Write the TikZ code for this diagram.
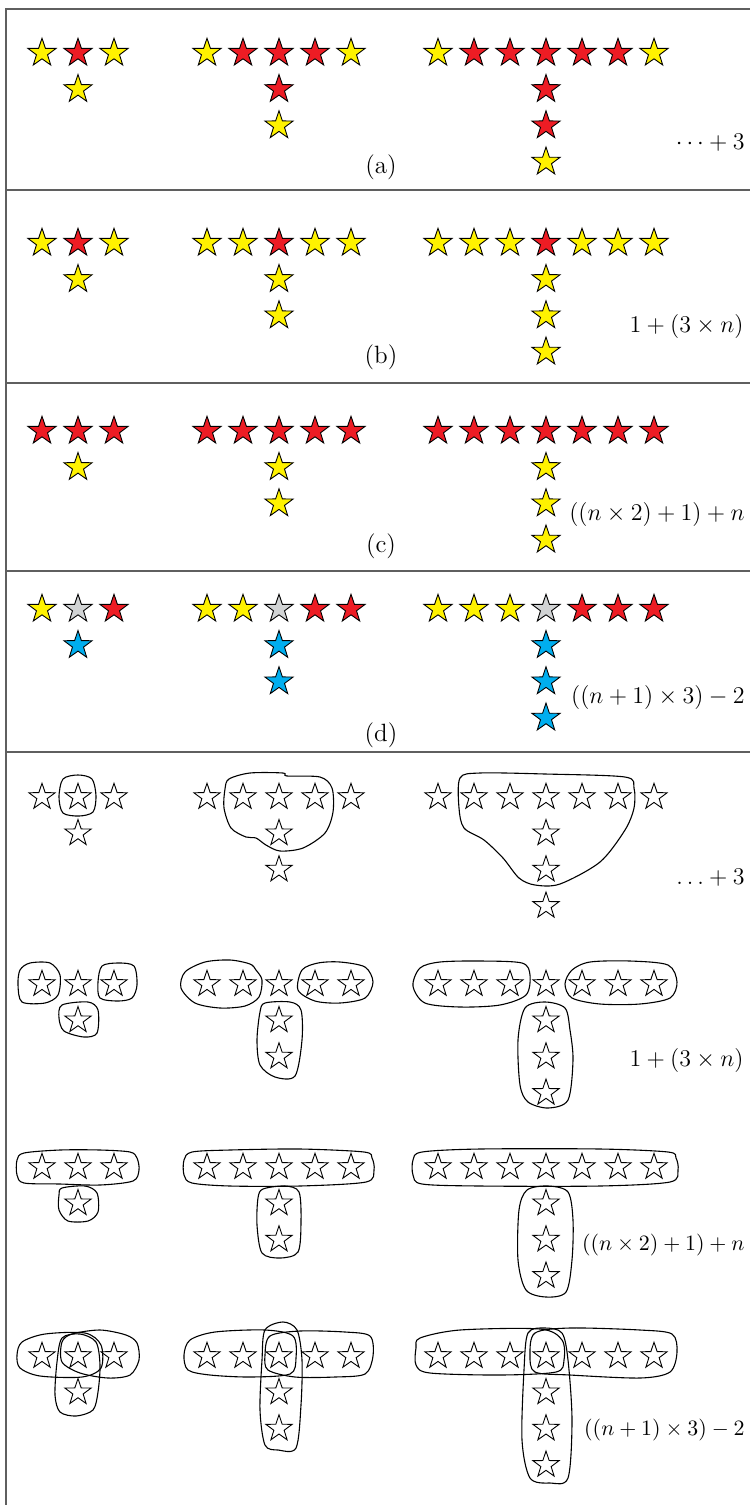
\documentclass[tikz,border=0pt]{standalone}
\usetikzlibrary{shapes.geometric}
\definecolor{sy}{RGB}{255,242,0}
\definecolor{sr}{RGB}{237,28,36}
\definecolor{sg}{RGB}{209,211,212}
\definecolor{sb}{RGB}{0,174,239}
\definecolor{framegray}{RGB}{95,95,95}
\newcommand{\Tgrp}[7]{%
  \foreach \c [count=\i] in {#6} {\node[#2,fill=\c] (#1t\i) at ({#3+(\i-#5-1)*36},#4) {};}
  \foreach \c [count=\i] in {#7} {\node[#2,fill=\c] (#1d\i) at (#3,{#4+\i*36.3}) {};}
}
\begin{document}
\begin{tikzpicture}[x=0.5pt,y=-0.5pt,
  st/.style={star,star points=5,star point ratio=2.55,minimum size=14.8pt,inner sep=0pt,draw=black,line width=0.45pt},
  ost/.style={st,minimum size=13.8pt,line width=0.45pt},
  ring/.style={draw=black,line width=0.55pt},
  frame/.style={draw=framegray,line width=0.8pt},
  lab/.style={inner sep=0pt,font=\fontsize{12.5}{15}\selectfont},
  slab/.style={inner sep=0pt,font=\fontsize{11.3}{14}\selectfont}]
\useasboundingbox (0,0) rectangle (750,1505);
\fill[white] (0,0) rectangle (750,1505);
% frame
\draw[frame] (5,9) -- (750,9);
\draw[frame] (6,9) -- (6,1505);
\foreach \yy in {190,383,571,752} {\draw[frame] (6,\yy) -- (750,\yy);}
% (a)
\Tgrp{aA}{st}{78}{53}{1}{sy,sr,sy}{sy}
\Tgrp{aB}{st}{279}{53}{2}{sy,sr,sr,sr,sy}{sr,sy}
\Tgrp{aC}{st}{546}{53}{3}{sy,sr,sr,sr,sr,sr,sy}{sr,sr,sy}
\node[lab] (la) at (381,167) {(a)};
\node[lab,anchor=east] (fa) at (745,143) {$\cdots+3$};
% (b)
\Tgrp{bA}{st}{78}{243}{1}{sy,sr,sy}{sy}
\Tgrp{bB}{st}{279}{243}{2}{sy,sy,sr,sy,sy}{sy,sy}
\Tgrp{bC}{st}{546}{243}{3}{sy,sy,sy,sr,sy,sy,sy}{sy,sy,sy}
\node[lab] (lb) at (381,357) {(b)};
\node[lab,anchor=east] (fb) at (744,326) {$1+(3\times n)$};
% (c)
\Tgrp{cA}{st}{78}{431}{1}{sr,sr,sr}{sy}
\Tgrp{cB}{st}{279}{431}{2}{sr,sr,sr,sr,sr}{sy,sy}
\Tgrp{cC}{st}{546}{431}{3}{sr,sr,sr,sr,sr,sr,sr}{sy,sy,sy}
\node[lab] (lc) at (381,546) {(c)};
\node[lab,anchor=east] (fc) at (745,514) {$((n\times 2)+1)+n$};
% (d)
\Tgrp{dA}{st}{78}{609}{1}{sy,sg,sr}{sb}
\Tgrp{dB}{st}{279}{609}{2}{sy,sy,sg,sr,sr}{sb,sb}
\Tgrp{dC}{st}{546}{609}{3}{sy,sy,sy,sg,sr,sr,sr}{sb,sb,sb}
\node[lab] (ld) at (381,735) {(d)};
\node[lab,anchor=east] (fd) at (745,697) {$((n+1)\times 3)-2$};
% lower block 1
\Tgrp{eA}{ost}{78}{797}{1}{white,white,white}{white}
\Tgrp{eB}{ost}{279}{797}{2}{white,white,white,white,white}{white,white}
\Tgrp{eC}{ost}{546}{797}{3}{white,white,white,white,white,white,white}{white,white,white}
\draw[ring] plot[smooth cycle] coordinates {(63,779) (78,775) (92,779) (96,796) (93,812) (79,816) (63,813) (59,797)};
\draw[ring] plot[smooth cycle] coordinates {(229,779) (250,773) (283,773) (287,776) (320,777) (332,788) (333,812) (325,833) (303,848) (280,851) (266,845) (256,838) (246,837) (231,828) (224,808) (225,789)};
\draw[ring] plot[smooth cycle] coordinates {(460,778) (480,773) (545,774) (625,777) (634,788) (634,808) (625,830) (600,862) (560,884) (535,885) (519,878) (503,858) (484,840) (464,828) (459,808)};
\node[lab,anchor=east] (fe) at (745,878) {$\ldots+3$};
% lower block 2
\Tgrp{gA}{ost}{78}{984}{1}{white,white,white}{white}
\Tgrp{gB}{ost}{279}{984}{2}{white,white,white,white,white}{white,white}
\Tgrp{gC}{ost}{546}{984}{3}{white,white,white,white,white,white,white}{white,white,white}
\draw[ring] plot[smooth cycle] coordinates {(20,970) (30,963) (50,963) (60,975) (58,995) (45,1003) (22,1002) (18,985)};
\draw[ring] plot[smooth cycle] coordinates {(102,966) (118,963) (134,966) (137,985) (132,998) (118,1001) (100,998) (98,982)};
\draw[ring] plot[smooth cycle] coordinates {(62,1005) (88,1002) (98,1010) (97,1033) (84,1037) (64,1031) (59,1018)};
\draw[ring] plot[smooth cycle] coordinates {(185,972) (205,962) (230,960) (250,964) (256,970) (262,980) (259,997) (245,1006) (220,1008) (195,1003) (181,988)};
\draw[ring] plot[smooth cycle] coordinates {(302,970) (318,963) (340,962) (365,967) (373,982) (365,998) (340,1003) (315,1001) (298,990)};
\draw[ring] plot[smooth cycle] coordinates {(265,1003) (290,1002) (301,1010) (302,1040) (295,1076) (275,1077) (260,1065) (257,1040) (260,1012)};
\draw[ring] plot[smooth cycle] coordinates {(420,968) (440,962) (480,961) (522,963) (530,975) (526,995) (500,1005) (460,1007) (425,1003) (413,986)};
\draw[ring] plot[smooth cycle] coordinates {(572,970) (590,962) (630,961) (668,965) (677,982) (670,998) (640,1004) (600,1004) (572,998) (565,984)};
\draw[ring] plot[smooth cycle] coordinates {(525,1008) (545,1002) (565,1008) (570,1030) (573,1060) (568,1100) (548,1108) (528,1102) (520,1085) (518,1040)};
\node[lab,anchor=east] (fg) at (744,1060) {$1+(3\times n)$};
% lower block 3
\Tgrp{hA}{ost}{78}{1167}{1}{white,white,white}{white}
\Tgrp{hB}{ost}{279}{1167}{2}{white,white,white,white,white}{white,white}
\Tgrp{hC}{ost}{546}{1167}{3}{white,white,white,white,white,white,white}{white,white,white}
\draw[ring] plot[smooth cycle] coordinates {(24,1153) (60,1150) (100,1150) (130,1152) (137,1158) (139,1170) (133,1181) (100,1185) (60,1184) (24,1183) (17,1175) (17,1160)};
\draw[ring] plot[smooth cycle] coordinates {(62,1188) (85,1186) (97,1193) (98,1212) (88,1221) (68,1221) (59,1210) (59,1195)};
\draw[ring] plot[smooth cycle] coordinates {(192,1152) (230,1150) (300,1149) (364,1152) (372,1158) (374,1170) (366,1182) (300,1186) (230,1186) (192,1183) (184,1175) (184,1160)};
\draw[ring] plot[smooth cycle] coordinates {(263,1189) (285,1186) (299,1192) (301,1222) (298,1252) (280,1258) (262,1253) (257,1225) (258,1198)};
\draw[ring] plot[smooth cycle] coordinates {(422,1152) (480,1149) (600,1149) (668,1152) (676,1158) (678,1170) (670,1182) (600,1186) (480,1186) (422,1184) (413,1175) (413,1160)};
\draw[ring] plot[smooth cycle] coordinates {(527,1190) (548,1186) (568,1192) (573,1220) (572,1260) (566,1292) (546,1297) (526,1290) (518,1260) (519,1210)};
\node[slab,anchor=east] (fh) at (745,1245) {$((n\times 2)+1)+n$};
% lower block 4
\Tgrp{kA}{ost}{78}{1356}{1}{white,white,white}{white}
\Tgrp{kB}{ost}{279}{1356}{2}{white,white,white,white,white}{white,white}
\Tgrp{kC}{ost}{546}{1356}{3}{white,white,white,white,white,white,white}{white,white,white}
\draw[ring] plot[smooth cycle] coordinates {(22,1342) (45,1334) (85,1333) (101,1345) (101,1368) (82,1377) (40,1376) (20,1368) (17,1355)};
\draw[ring] plot[smooth cycle] coordinates {(72,1334) (100,1330) (126,1335) (137,1343) (139,1360) (130,1375) (108,1378) (80,1373) (62,1362) (62,1342)};
\draw[ring] plot[smooth cycle] coordinates {(62,1338) (80,1334) (96,1342) (100,1365) (98,1392) (93,1410) (76,1416) (60,1412) (55,1395) (57,1362)};
\draw[ring] plot[smooth cycle] coordinates {(190,1340) (215,1332) (265,1330) (293,1336) (296,1358) (290,1374) (250,1377) (210,1375) (188,1370) (184,1355)};
\draw[ring] plot[smooth cycle] coordinates {(270,1336) (300,1331) (345,1332) (370,1336) (373,1356) (365,1374) (335,1377) (295,1377) (268,1370) (265,1355)};
\draw[ring] plot[smooth cycle] coordinates {(265,1330) (283,1322) (297,1330) (302,1360) (301,1405) (296,1448) (278,1450) (265,1445) (260,1410) (262,1360)};
\draw[ring] plot[smooth cycle] coordinates {(420,1338) (460,1330) (540,1329) (562,1340) (564,1360) (556,1372) (500,1375) (430,1373) (416,1365) (416,1348)};
\draw[ring] plot[smooth cycle] coordinates {(535,1333) (570,1328) (640,1330) (672,1334) (677,1352) (670,1372) (640,1378) (570,1375) (535,1372) (530,1355)};
\draw[ring] plot[smooth cycle] coordinates {(528,1333) (545,1328) (562,1333) (568,1360) (572,1420) (568,1478) (550,1483) (530,1478) (522,1440) (524,1370)};
\node[slab,anchor=east] (fk) at (745,1430) {$((n+1)\times 3)-2$};
\end{tikzpicture}
\end{document}
